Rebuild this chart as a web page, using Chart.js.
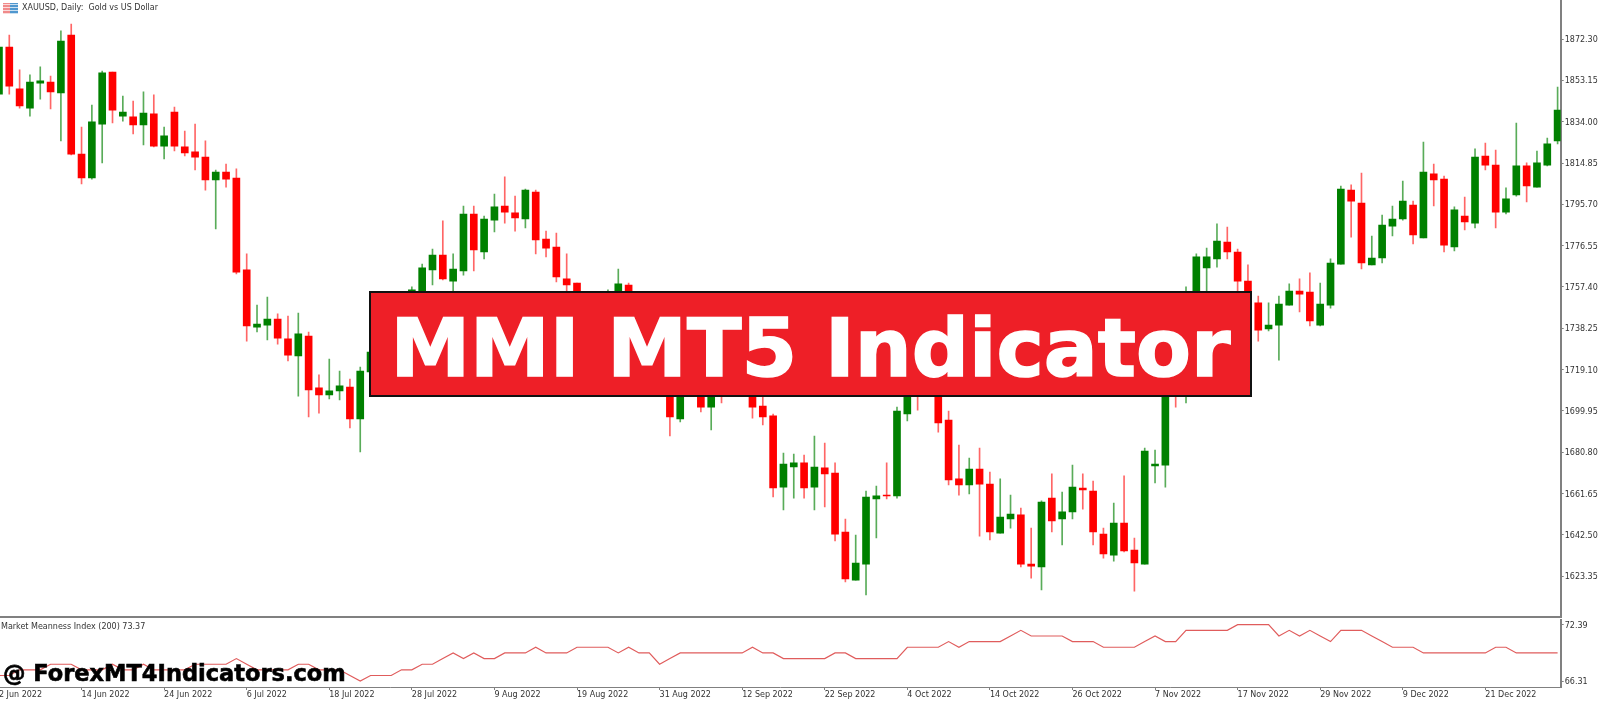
<!DOCTYPE html>
<html lang="en">

<head>
    <meta charset="UTF-8">
    <title>XAUUSD, Daily: Gold vs US Dollar</title>
    <script src="https://cdn.jsdelivr.net/npm/chart.js"></script>
    <style>
        body { margin: 0; background: #fff; overflow: hidden; width: 1600px; height: 701px; }
        canvas { position: absolute; left: 0; }
        #priceChart { top: 0; }
        #mmiChart { top: 619px; }
        .label { position: absolute; font: 8px "DejaVu Sans", sans-serif; color: #333; white-space: pre; }
        #symbolIcon {
            position: absolute; left: 3px; top: 3px; width: 15px; height: 11px;
            background:
                repeating-linear-gradient(0deg, rgba(255,255,255,.7) 0 1px, transparent 1px 3px),
                linear-gradient(90deg, #f08a8a 50%, #4f97cf 50%);
        }
        #banner {
            position: absolute; left: 369px; top: 291px; width: 879px; height: 102px;
            background: #ee1f27; border: 2px solid #111; color: #fff;
            font: bold 80px/111px "DejaVu Sans", sans-serif; text-align: center; white-space: pre;
            -webkit-text-stroke: 1.5px #fff;
        }
        #watermark {
            position: absolute; left: 3px; top: 660px; color: #000;
            font: bold 22.5px/26px "DejaVu Sans", sans-serif; white-space: pre;
            -webkit-text-stroke: 0.6px #000;
        }
    </style>
</head>

<body>
    <canvas id="priceChart" width="1600" height="619"></canvas>
    <canvas id="mmiChart" width="1600" height="82"></canvas>
    <div id="symbolIcon"></div>
    <div class="label" style="left:22px;top:3px">XAUUSD, Daily:  Gold vs US Dollar</div>
    <div class="label" style="left:1px;top:622px">Market Meanness Index (200) 73.37</div>
    <div id="banner">MMI MT5 Indicator</div>
    <div id="watermark">@ ForexMT4Indicators.com</div>
    <script>
        var opens = [
            1846.8, 1868.6, 1849.2, 1840.3, 1851.9, 1852.4, 1847.3, 1874.2, 1819.0, 1807.9,
            1832.9, 1857.0, 1836.6, 1836.2, 1832.5, 1837.6, 1822.7, 1838.5, 1822.3, 1820.0,
            1817.6, 1807.0, 1810.7, 1807.9, 1765.3, 1738.8, 1739.7, 1742.5, 1733.3, 1725.4,
            1734.6, 1710.6, 1707.3, 1709.2, 1711.0, 1696.2, 1718.0, 1730.5, 1742.1, 1749.0,
            1750.4, 1753.2, 1765.3, 1772.2, 1760.1, 1764.8, 1791.2, 1773.6, 1788.4, 1794.9,
            1791.7, 1788.9, 1801.4, 1779.6, 1775.9, 1761.1, 1759.2, 1749.0, 1737.4, 1746.7,
            1752.3, 1758.3, 1751.3, 1737.4, 1723.5, 1711.9, 1696.2, 1714.3, 1716.6, 1701.7,
            1716.6, 1716.6, 1711.9, 1716.6, 1702.2, 1697.6, 1664.6, 1673.9, 1675.8, 1664.6,
            1673.5, 1671.1, 1643.8, 1621.5, 1628.9, 1659.1, 1660.9, 1660.5, 1698.5, 1716.6,
            1709.6, 1721.2, 1695.7, 1668.4, 1665.6, 1673.0, 1666.0, 1643.3, 1649.8, 1651.7,
            1628.9, 1627.6, 1659.5, 1649.8, 1653.1, 1664.2, 1662.8, 1642.8, 1633.1, 1647.9,
            1635.4, 1628.9, 1674.4, 1674.8, 1742.1, 1716.6, 1746.7, 1766.2, 1770.4, 1778.2,
            1773.6, 1760.1, 1750.0, 1737.9, 1739.7, 1749.0, 1755.5, 1755.0, 1739.7, 1749.0,
            1768.0, 1802.3, 1796.3, 1767.6, 1770.8, 1785.6, 1788.9, 1795.4, 1780.1, 1809.8,
            1807.4, 1775.9, 1790.3, 1787.0, 1818.1, 1813.9, 1792.1, 1800.0, 1813.5, 1803.7,
            1813.9, 1825.1
        ];
        var highs = [
            1870.0, 1874.2, 1858.0, 1855.7, 1859.4, 1855.2, 1876.1, 1879.3, 1831.5, 1841.7,
            1857.5, 1857.0, 1845.9, 1843.6, 1847.8, 1846.4, 1831.5, 1840.8, 1829.7, 1832.9,
            1825.1, 1811.6, 1814.4, 1812.1, 1772.7, 1749.0, 1752.7, 1744.9, 1743.9, 1745.3,
            1736.5, 1716.6, 1724.0, 1718.4, 1714.7, 1720.3, 1730.5, 1745.8, 1752.3, 1754.1,
            1757.4, 1768.0, 1775.0, 1788.0, 1772.7, 1794.9, 1794.9, 1790.3, 1800.5, 1808.4,
            1799.5, 1802.8, 1802.3, 1783.3, 1782.4, 1772.7, 1759.2, 1751.3, 1751.3, 1756.0,
            1765.7, 1759.2, 1753.7, 1739.7, 1728.2, 1716.6, 1718.0, 1723.5, 1719.8, 1721.2,
            1721.2, 1723.5, 1723.5, 1721.2, 1708.2, 1698.5, 1680.4, 1679.9, 1679.5, 1688.3,
            1685.0, 1675.8, 1649.8, 1642.4, 1662.8, 1665.1, 1675.8, 1701.7, 1718.9, 1721.2,
            1725.8, 1725.8, 1699.9, 1684.1, 1678.1, 1682.7, 1671.6, 1668.4, 1660.9, 1654.9,
            1645.6, 1658.2, 1670.7, 1662.3, 1674.8, 1670.7, 1667.4, 1645.6, 1657.2, 1669.8,
            1641.0, 1682.7, 1681.8, 1742.1, 1746.7, 1757.4, 1772.7, 1775.4, 1786.6, 1785.2,
            1775.0, 1767.6, 1753.2, 1750.0, 1753.2, 1758.8, 1761.1, 1763.9, 1759.2, 1770.4,
            1804.2, 1804.7, 1810.2, 1781.0, 1790.7, 1794.9, 1806.5, 1797.2, 1824.6, 1814.4,
            1808.8, 1794.5, 1799.1, 1821.4, 1824.1, 1820.9, 1803.3, 1833.4, 1814.9, 1820.4,
            1826.4, 1850.1
        ];
        var lows = [
            1845.4, 1846.8, 1840.3, 1836.6, 1844.5, 1839.9, 1825.1, 1818.6, 1805.1, 1807.4,
            1814.9, 1833.4, 1834.3, 1828.3, 1823.2, 1822.3, 1816.7, 1820.4, 1818.1, 1811.6,
            1802.3, 1784.3, 1803.7, 1763.4, 1732.3, 1736.5, 1732.8, 1730.9, 1723.1, 1706.8,
            1697.1, 1698.9, 1705.5, 1705.0, 1692.0, 1680.9, 1715.2, 1728.2, 1738.4, 1745.8,
            1747.6, 1751.3, 1758.3, 1760.6, 1753.2, 1762.9, 1764.8, 1770.4, 1782.9, 1787.0,
            1783.3, 1784.7, 1772.7, 1771.3, 1759.7, 1753.2, 1745.8, 1737.4, 1732.8, 1742.1,
            1749.0, 1737.4, 1730.5, 1718.0, 1708.7, 1688.3, 1694.8, 1708.7, 1699.4, 1691.1,
            1703.6, 1707.3, 1708.2, 1696.6, 1693.4, 1660.0, 1654.0, 1659.5, 1659.5, 1654.0,
            1655.4, 1639.6, 1620.6, 1621.5, 1614.6, 1641.0, 1659.1, 1659.5, 1695.3, 1700.3,
            1707.3, 1690.1, 1665.6, 1660.9, 1661.4, 1641.9, 1640.1, 1643.3, 1645.6, 1627.6,
            1622.4, 1616.9, 1643.8, 1637.8, 1649.8, 1654.4, 1637.8, 1631.7, 1630.3, 1634.5,
            1616.4, 1628.9, 1666.5, 1664.6, 1701.7, 1703.6, 1743.0, 1753.7, 1766.6, 1770.4,
            1753.7, 1742.1, 1732.3, 1737.0, 1723.5, 1749.0, 1745.8, 1739.3, 1739.3, 1747.6,
            1768.0, 1780.5, 1765.7, 1767.6, 1768.5, 1781.0, 1788.4, 1777.3, 1780.1, 1794.9,
            1773.6, 1774.1, 1783.8, 1784.7, 1811.6, 1784.7, 1791.2, 1799.5, 1796.8, 1803.7,
            1813.5, 1823.7
        ];
        var closes = [
            1868.6, 1850.5, 1841.3, 1852.4, 1852.9, 1847.8, 1871.4, 1819.0, 1807.9, 1833.9,
            1856.6, 1839.4, 1838.5, 1832.5, 1838.0, 1822.7, 1827.4, 1822.7, 1819.5, 1817.6,
            1807.0, 1810.7, 1807.4, 1764.3, 1739.3, 1740.2, 1742.5, 1733.7, 1725.8, 1735.6,
            1709.6, 1707.3, 1709.2, 1711.5, 1696.2, 1718.4, 1727.2, 1742.1, 1749.0, 1751.3,
            1756.0, 1766.2, 1772.2, 1761.1, 1765.7, 1791.2, 1774.5, 1788.9, 1794.5, 1792.1,
            1789.4, 1802.3, 1779.2, 1775.4, 1762.0, 1758.3, 1749.0, 1742.1, 1746.7, 1752.3,
            1758.8, 1751.3, 1737.4, 1723.5, 1711.9, 1697.1, 1714.3, 1721.2, 1701.7, 1716.6,
            1709.6, 1711.9, 1718.9, 1701.7, 1697.1, 1664.2, 1675.3, 1675.8, 1664.2, 1673.9,
            1670.7, 1642.8, 1622.0, 1629.4, 1660.0, 1660.5, 1660.5, 1699.9, 1716.6, 1709.6,
            1721.2, 1694.3, 1667.9, 1665.6, 1673.0, 1666.0, 1643.8, 1650.7, 1652.1, 1628.9,
            1628.0, 1657.7, 1648.9, 1653.1, 1664.6, 1663.3, 1643.8, 1633.6, 1647.9, 1635.0,
            1629.4, 1681.3, 1675.3, 1737.4, 1711.9, 1746.7, 1771.3, 1771.3, 1778.7, 1773.6,
            1760.1, 1746.7, 1737.4, 1739.7, 1749.5, 1755.5, 1754.1, 1741.6, 1749.5, 1768.5,
            1802.8, 1797.2, 1768.5, 1770.8, 1786.1, 1788.9, 1797.2, 1781.5, 1810.7, 1807.0,
            1776.8, 1793.1, 1787.5, 1817.6, 1813.9, 1792.1, 1798.2, 1813.5, 1804.2, 1814.9,
            1823.7, 1839.4
        ];
        var mmiValues = [
            66.92, 66.92, 67.53, 67.53, 67.53, 68.13, 68.13, 68.13, 67.53, 67.53,
            67.53, 68.13, 67.53, 67.53, 68.13, 67.53, 67.53, 67.53, 67.53, 68.13,
            68.13, 68.13, 68.13, 68.74, 68.13, 67.53, 67.53, 67.53, 67.53, 68.13,
            68.13, 67.53, 67.53, 67.53, 66.92, 66.31, 66.92, 66.92, 66.92, 67.53,
            67.53, 68.13, 68.13, 68.74, 69.35, 68.74, 69.35, 68.74, 68.74, 69.35,
            69.35, 69.35, 69.96, 69.35, 69.35, 69.35, 69.96, 69.96, 69.96, 69.96,
            69.35, 69.96, 69.35, 69.35, 68.13, 68.74, 69.35, 69.35, 69.35, 69.35,
            69.35, 69.35, 69.35, 69.96, 69.35, 69.35, 68.74, 68.74, 68.74, 68.74,
            68.74, 69.35, 69.35, 68.74, 68.74, 68.74, 68.74, 68.74, 69.96, 69.96,
            69.96, 69.96, 70.57, 69.96, 70.57, 70.57, 70.57, 70.57, 71.17, 71.78,
            71.17, 71.17, 71.17, 71.17, 70.57, 70.57, 70.57, 69.96, 69.96, 69.96,
            69.96, 70.57, 71.17, 70.57, 70.57, 71.78, 71.78, 71.78, 71.78, 71.78,
            72.39, 72.39, 72.39, 72.39, 71.17, 71.78, 71.17, 71.78, 71.17, 70.57,
            71.78, 71.78, 71.78, 71.17, 70.57, 69.96, 69.96, 69.96, 69.35, 69.35,
            69.35, 69.35, 69.35, 69.35, 69.35, 69.96, 69.96, 69.35, 69.35, 69.35,
            69.35, 69.35
        ];
        var dateTicks = [
            '2 Jun 2022', '14 Jun 2022', '24 Jun 2022', '6 Jul 2022', '18 Jul 2022',
            '28 Jul 2022', '9 Aug 2022', '19 Aug 2022', '31 Aug 2022', '12 Sep 2022',
            '22 Sep 2022', '4 Oct 2022', '14 Oct 2022', '26 Oct 2022', '7 Nov 2022',
            '17 Nov 2022', '29 Nov 2022', '9 Dec 2022', '21 Dec 2022'
        ];
        var priceTicks = [1872.30, 1853.15, 1834.00, 1814.85, 1795.70, 1776.55, 1757.40,
            1738.25, 1719.10, 1699.95, 1680.80, 1661.65, 1642.50, 1623.35];
        var mmiTicks = [72.39, 66.31];

        var barsPerDateTick = 8;
        var axisColor = '#808080';
        var textColor = '#333333';
        var axisFont = { family: '"DejaVu Sans", sans-serif', size: 8 };

        function isUp(i) {
            return closes[i] >= opens[i];
        }
        function bodyColor(ctx) {
            return isUp(ctx.dataIndex) ? '#008000' : '#ff0000';
        }
        // wicks come out paler than the bodies in the screenshot
        function wickColor(ctx) {
            return isUp(ctx.dataIndex) ? 'rgba(0,128,0,0.65)' : 'rgba(255,0,0,0.6)';
        }

        // tick labels would otherwise pull the chart area in from the canvas edge
        function noLabelPadding(scale) {
            scale.paddingTop = 0;
            scale.paddingBottom = 0;
            scale.paddingLeft = 0;
            scale.paddingRight = 0;
        }

        function valueAxis(min, max, tickValues) {
            return {
                position: 'right',
                min: min,
                max: max,
                afterFit: function (scale) {
                    scale.width = 39.3;
                    noLabelPadding(scale);
                },
                afterBuildTicks: function (scale) {
                    scale.ticks = tickValues.map(function (v) { return { value: v }; });
                },
                border: { color: axisColor, width: 2 },
                grid: { drawOnChartArea: false, tickLength: 3, tickColor: axisColor },
                ticks: {
                    autoSkip: false,
                    padding: 1,
                    labelOffset: 1,
                    color: textColor,
                    font: axisFont,
                    callback: function (v) { return v.toFixed(2); }
                }
            };
        }

        new Chart(document.getElementById('priceChart').getContext('2d'), {
            type: 'bar',
            data: {
                datasets: [{
                    // wicks
                    data: closes.map(function (c, i) { return { x: i, y: [lows[i], highs[i]] }; }),
                    backgroundColor: wickColor,
                    barThickness: 1,
                    order: 2
                }, {
                    // bodies
                    data: closes.map(function (c, i) { return { x: i, y: [opens[i], c] }; }),
                    backgroundColor: bodyColor,
                    barThickness: 7,
                    order: 1
                }]
            },
            options: {
                responsive: false,
                animation: false,
                devicePixelRatio: 1,
                layout: { padding: 0 },
                plugins: { legend: { display: false }, tooltip: { enabled: false } },
                datasets: { bar: { grouped: false } },
                scales: {
                    x: {
                        type: 'linear',
                        offset: false,
                        min: 0.1,
                        max: 151.3,
                        afterFit: function (scale) {
                            scale.height = 2;
                            noLabelPadding(scale);
                        },
                        border: { color: axisColor, width: 2 },
                        grid: { offset: false, drawOnChartArea: false, drawTicks: false },
                        ticks: { display: false }
                    },
                    y: valueAxis(1604.38, 1890.42, priceTicks)
                }
            }
        });

        new Chart(document.getElementById('mmiChart').getContext('2d'), {
            type: 'line',
            data: {
                datasets: [{
                    data: mmiValues.map(function (v, i) { return { x: i, y: v }; }),
                    borderColor: '#e05c5c',
                    borderWidth: 1.2,
                    pointRadius: 0,
                    tension: 0
                }]
            },
            options: {
                responsive: false,
                animation: false,
                devicePixelRatio: 1,
                layout: { padding: 0 },
                plugins: { legend: { display: false }, tooltip: { enabled: false } },
                scales: {
                    x: {
                        type: 'linear',
                        min: 0.1,
                        max: 151.3,
                        afterFit: function (scale) {
                            scale.height = 14;
                            noLabelPadding(scale);
                        },
                        afterBuildTicks: function (scale) {
                            scale.ticks = dateTicks.map(function (d, i) { return { value: i * barsPerDateTick }; });
                        },
                        border: { color: axisColor, width: 1 },
                        grid: { drawOnChartArea: false, tickLength: 3, tickColor: axisColor },
                        ticks: {
                            autoSkip: false,
                            maxRotation: 0,
                            align: 'start',
                            padding: 0,
                            color: textColor,
                            font: axisFont,
                            callback: function (v) { return dateTicks[v / barsPerDateTick]; }
                        }
                    },
                    y: valueAxis(65.68, 73.0, mmiTicks)
                }
            }
        });
    </script>
</body>

</html>
